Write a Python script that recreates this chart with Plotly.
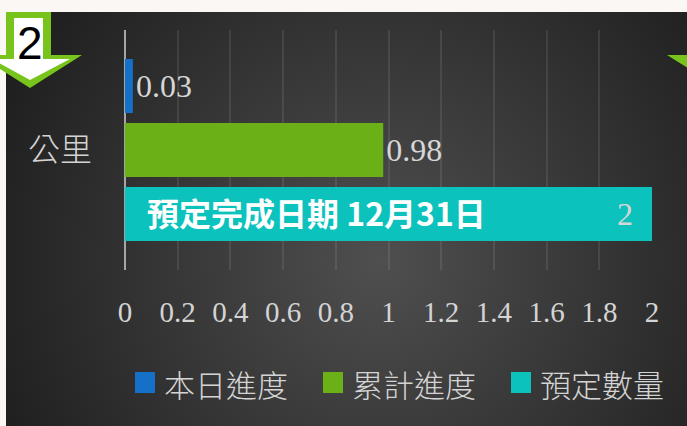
import base64
import plotly.graph_objects as go

# ---- data ----
categories = ["公里"]
series_names = ["本日進度", "累計進度", "預定數量"]
series_values = [[0.03], [0.98], [2]]
series_colors = ["#1570c8", "#6bb016", "#0cc2bd"]
x_tickvals = [0, 0.2, 0.4, 0.6, 0.8, 1, 1.2, 1.4, 1.6, 1.8, 2]
x_ticktext = ["0", "0.2", "0.4", "0.6", "0.8", "1", "1.2", "1.4", "1.6", "1.8", "2"]
note_text = "預定完成日期 12月31日"
badge_text = "2"

W, H = 687, 426


def px(x):
    return x / W


def py(y):
    return 1 - y / H


LABEL_FONT = dict(family="Liberation Serif, DejaVu Serif, serif", size=32, color="#d6d6d6")

fig = go.Figure()
# first trace is drawn lowest in a horizontal group -> add in reverse order
for name, vals, col in reversed(list(zip(series_names, series_values, series_colors))):
    is_last = name == series_names[-1]
    fig.add_trace(go.Bar(
        name=name,
        y=categories,
        x=vals,
        orientation="h",
        marker=dict(color=col, line=dict(width=0)),
        text=[f"{v:g}\u00a0\u00a0" if is_last else f"{v:g}" for v in vals],
        textposition="inside" if is_last else "outside",
        insidetextanchor="end",
        textfont=LABEL_FONT,
        insidetextfont=LABEL_FONT,
        outsidetextfont=LABEL_FONT,
        cliponaxis=False,
        showlegend=False,
    ))

svg = f"""<svg xmlns="http://www.w3.org/2000/svg" width="{W}" height="{H}" viewBox="0 0 {W} {H}">
<defs><radialGradient id="g" cx="380" cy="260" r="440" gradientUnits="userSpaceOnUse">
<stop offset="0" stop-color="#4f4f4f"/><stop offset="1" stop-color="#1c1c1c"/></radialGradient></defs>
<rect x="6" y="12" width="{W-6}" height="{H-12}" fill="url(#g)"/></svg>"""
svg_uri = "data:image/svg+xml;base64," + base64.b64encode(svg.encode()).decode()

shapes = []


def path(points):
    return "M " + " L ".join(f"{px(x):.5f},{py(y):.5f}" for x, y in points) + " Z"


# badge arrow
shapes.append(dict(type="path", xref="paper", yref="paper", layer="above",
                   path=path([(6, 12), (51, 12), (51, 55), (82, 55), (30, 88), (-22, 55), (6, 55)]),
                   fillcolor="#78c41c", line=dict(width=0)))
shapes.append(dict(type="path", xref="paper", yref="paper", layer="above",
                   path=path([(14, 18), (43, 18), (43, 59), (70, 59), (30, 80), (-8, 59), (14, 59)]),
                   fillcolor="#ffffff", line=dict(width=0)))
# right corner triangle
shapes.append(dict(type="path", xref="paper", yref="paper", layer="above",
                   path=path([(667, 55), (688, 55), (688, 68)]),
                   fillcolor="#78c41c", line=dict(width=0)))

annotations = [
    dict(text=badge_text, xref="paper", yref="paper", x=px(29.5), y=py(43),
         xanchor="center", yanchor="middle", showarrow=False,
         font=dict(family="Liberation Sans, Arial, sans-serif", size=46, color="#000000")),
    dict(text=note_text, xref="x", x=0, xshift=20, yref="paper", y=py(212),
         xanchor="left", yanchor="middle", showarrow=False,
         font=dict(family="Noto Sans CJK TC, sans-serif", size=32, color="#ffffff", weight="bold")),
]

# manual legend
for i, (name, col) in enumerate(zip(series_names, series_colors)):
    x0 = 135 + 188 * i
    shapes.append(dict(type="rect", xref="paper", yref="paper",
                       x0=px(x0), x1=px(x0 + 20), y0=py(393), y1=py(372),
                       fillcolor=col, line=dict(width=0)))
    annotations.append(dict(text=name, xref="paper", yref="paper", x=px(x0 + 27), y=py(383),
                            xanchor="left", yanchor="middle", showarrow=False,
                            font=dict(family="Noto Sans CJK TC, sans-serif", size=31,
                                      color="#d4d4d4", weight=300)))

fig.update_layout(
    width=W, height=H,
    autosize=False,
    margin=dict(l=0, r=0, t=0, b=0, pad=0, autoexpand=False),
    paper_bgcolor="#faf7f4",
    plot_bgcolor="rgba(0,0,0,0)",
    barmode="group",
    bargap=0.2,
    bargroupgap=0.156,
    showlegend=False,
    images=[dict(source=svg_uri, xref="paper", yref="paper", x=0, y=1, sizex=1, sizey=1,
                 xanchor="left", yanchor="top", sizing="stretch", layer="below")],
    shapes=shapes,
    annotations=annotations,
    xaxis=dict(
        domain=[px(125), px(652)],
        range=[0, 2],
        automargin=False,
        tickmode="array", tickvals=x_tickvals, ticktext=x_ticktext,
        showgrid=True, gridcolor="rgba(255,255,255,0.09)", gridwidth=2,
        zeroline=True, zerolinecolor="#a6a6a6", zerolinewidth=2,
        showline=False, ticks="",
        ticklabelstandoff=22,
        tickfont=dict(family="Liberation Serif, DejaVu Serif, serif", size=29, color="#d4d4d4"),
        fixedrange=True,
    ),
    yaxis=dict(
        domain=[py(270), py(30)],
        type="category",
        automargin=False,
        showgrid=False, zeroline=False, showline=False, ticks="",
        ticklabelstandoff=32,
        tickfont=dict(family="Noto Sans CJK TC, sans-serif", size=32, color="#d4d4d4", weight=300),
        fixedrange=True,
    ),
)

fig.write_html(
    "out.html",
    config={"displayModeBar": False},
    post_script="document.documentElement.style.margin='0';document.body.style.margin='0';"
                "document.body.style.padding='0';document.documentElement.style.overflow='hidden';"
                "document.body.style.overflow='hidden';",
)
